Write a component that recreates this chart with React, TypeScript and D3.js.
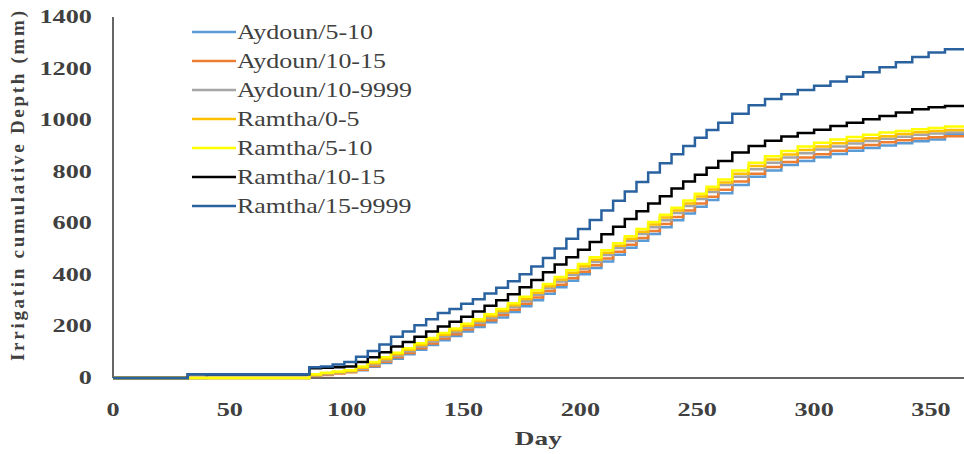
import * as d3 from "d3";

// irrigation days (x) shared by every series
const dayGrid = [0, 32, 40, 84, 89, 94, 99, 104, 109, 114, 119, 124, 129, 134, 139, 144, 149, 154, 159, 164, 169, 174, 179, 184, 189, 194, 199, 204, 209, 214, 219, 224, 229, 234, 239, 244, 249, 254, 259, 265, 272, 279, 286, 293, 300, 307, 314, 321, 328, 335, 342, 349, 356];

// cumulative depth (mm) at each day of dayGrid
const aydoun5_10 = [0, 0, 12, 14, 16, 20, 24, 30, 44, 58, 75, 92, 110, 128, 146, 163, 180, 198, 216, 235, 256, 278, 302, 327, 352, 377, 402, 427, 452, 478, 505, 532, 558, 585, 612, 638, 664, 690, 716, 748, 780, 805, 826, 842, 856, 869, 881, 892, 902, 910, 918, 925, 945];
const aydoun10_15 = [0, 0, 0, 8, 12, 17, 22, 32, 47, 63, 80, 97, 115, 134, 153, 170, 188, 206, 224, 244, 265, 288, 312, 337, 362, 387, 412, 437, 463, 490, 517, 543, 570, 597, 624, 650, 677, 703, 730, 762, 792, 818, 838, 855, 868, 881, 893, 904, 914, 922, 929, 934, 938];
const aydoun10_9999 = [0, 0, 0, 10, 15, 20, 25, 36, 52, 68, 86, 104, 122, 142, 161, 178, 196, 214, 233, 253, 275, 298, 323, 348, 374, 399, 424, 450, 477, 504, 531, 558, 585, 612, 640, 667, 694, 721, 748, 780, 810, 835, 855, 872, 886, 898, 909, 919, 928, 936, 943, 948, 952];
const ramtha0_5 = [0, 0, 0, 12, 18, 22, 27, 40, 57, 74, 92, 110, 128, 148, 168, 185, 203, 221, 240, 260, 282, 306, 331, 356, 382, 408, 433, 459, 486, 513, 540, 567, 595, 622, 650, 677, 704, 731, 758, 792, 822, 847, 867, 884, 898, 910, 920, 930, 938, 946, 953, 958, 962];
const ramtha5_10 = [0, 0, 0, 15, 20, 25, 30, 45, 62, 80, 98, 115, 135, 155, 175, 192, 210, 228, 247, 268, 290, 315, 340, 365, 392, 418, 442, 468, 495, 523, 550, 578, 605, 633, 660, 688, 715, 742, 770, 805, 835, 860, 880, 898, 912, 925, 935, 943, 952, 958, 965, 970, 975];
const ramtha10_15 = [0, 15, 15, 38, 40, 42, 45, 62, 80, 100, 122, 140, 160, 180, 200, 218, 238, 258, 280, 302, 325, 352, 380, 410, 440, 468, 497, 527, 557, 587, 617, 647, 677, 705, 735, 762, 788, 815, 842, 875, 900, 920, 937, 950, 963, 977, 990, 1003, 1016, 1030, 1042, 1050, 1055];
const ramtha15_9999 = [0, 15, 15, 42, 45, 52, 62, 82, 105, 130, 160, 180, 205, 228, 252, 268, 288, 305, 328, 350, 375, 402, 432, 465, 502, 540, 578, 613, 650, 687, 723, 760, 797, 833, 868, 900, 932, 962, 990, 1025, 1058, 1082, 1100, 1117, 1133, 1150, 1168, 1186, 1205, 1225, 1245, 1262, 1275];

const seriesNames = ["Aydoun/5-10", "Aydoun/10-15", "Aydoun/10-9999", "Ramtha/0-5", "Ramtha/5-10", "Ramtha/10-15", "Ramtha/15-9999"];
const seriesValues = [aydoun5_10, aydoun10_15, aydoun10_9999, ramtha0_5, ramtha5_10, ramtha10_15, ramtha15_9999];
const seriesColors = ["#5B9BD5", "#ED7D31", "#A5A5A5", "#FFC000", "#FFFF00", "#000000", "#2A62A0"];

const xTicks = [0, 50, 100, 150, 200, 250, 300, 350];
const yTicks = [0, 200, 400, 600, 800, 1000, 1200, 1400];

const W = 964, H = 454;
const font = "'Liberation Serif', 'Times New Roman', serif";
const ink = "#404040";

export default function App() {
  const x = d3.scaleLinear().domain([0, 365]).range([113, 966]);
  const y = d3.scaleLinear().domain([0, 1400]).range([378, 17]);

  const line = d3.line<[number, number]>()
    .x(d => x(d[0]))
    .y(d => y(d[1]))
    .curve(d3.curveStepAfter);

  const paths = seriesValues.map(vals => {
    const pts: [number, number][] = dayGrid.map((d, i) => [d, vals[i]]);
    pts.push([365, vals[vals.length - 1]]);
    return line(pts) as string;
  });

  return (
    <svg width={W} height={H} style={{position: "absolute", left: 0, top: 0, background: "#fff"}}>
      <rect width={W} height={H} fill="#fff" />

      {/* axes */}
      <line x1={x(0)} x2={x(0)} y1={y(1400)} y2={y(0)} stroke="#333" strokeWidth={1.5} />
      <line x1={x(0)} x2={W} y1={y(0)} y2={y(0)} stroke="#333" strokeWidth={1.5} />

      {yTicks.map(t => (
        <g key={t} transform={`translate(92,${y(t) + 6}) scale(1.42,1)`}>
          <text textAnchor="end" fontFamily={font} fontWeight="bold" fontSize={18.5} fill={ink}>{t}</text>
        </g>
      ))}
      {xTicks.map(t => (
        <g key={t} transform={`translate(${x(t)},${416}) scale(1.42,1)`}>
          <text textAnchor="middle" fontFamily={font} fontWeight="bold" fontSize={18.5} fill={ink}>{t}</text>
        </g>
      ))}
      <g transform={`translate(${x(182)},445) scale(1.4,1)`}>
        <text textAnchor="middle" fontFamily={font} fontWeight="bold" fontSize={19.5} fill={ink}>Day</text>
      </g>
      <text transform="translate(24,186) rotate(-90)" textAnchor="middle" fontFamily={font} fontWeight="bold"
            fontSize={19} fill={ink} textLength={350} lengthAdjust="spacing">
        Irrigatin  cumulative  Depth (mm)
      </text>

      {/* series */}
      {paths.map((p, i) => (
        <path key={seriesNames[i]} d={p} fill="none" stroke={seriesColors[i]} strokeWidth={2.5} />
      ))}

      {/* legend */}
      {seriesNames.map((n, i) => (
        <g key={n} transform={`translate(192,${32 + i * 29})`}>
          <line x1={0} x2={44} y1={0} y2={0} stroke={seriesColors[i]} strokeWidth={2.5} />
          <g transform="translate(45,7) scale(1.18,1)">
            <text fontFamily={font} fontSize={22} fill={ink}>{n}</text>
          </g>
        </g>
      ))}
    </svg>
  );
}
